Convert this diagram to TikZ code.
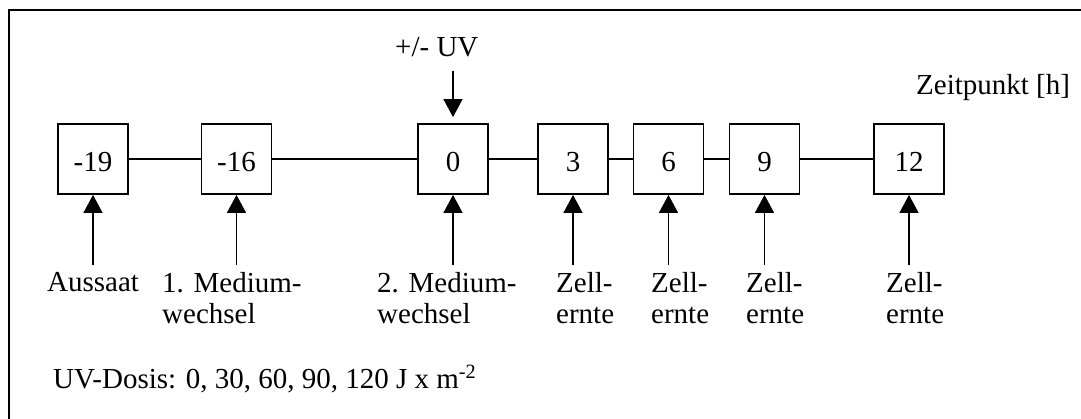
\documentclass[tikz,border=0pt]{standalone}
\usepackage{fontspec}
\setmainfont{Liberation Serif}
\usetikzlibrary{arrows.meta}

\begin{document}
\begin{tikzpicture}[x=1pt,y=-1pt,
  every node/.style={font=\fontsize{29}{32}\selectfont, inner sep=0pt},
  timebox/.style={draw, line width=1.8pt, minimum size=70pt,
    text height=28pt, text depth=2pt},
  link/.style={line width=1.2pt},
  mark arrow/.style={line width=1.3pt,
    -{Triangle[length=18pt,width=19pt]}},
  caption/.style={anchor=base west, align=left}
]
\useasboundingbox (0,0) rectangle (1081,419);
\clip (0,0) rectangle (1081,419);

% outer frame (runs past the right and bottom edges)
\draw[line width=2pt] (8.5,10.5) rectangle (1100,440);

% time points
\node[timebox] (tm19) at (93,159)   {-19};
\node[timebox] (tm16) at (236.5,159) {-16};
\node[timebox] (t0)   at (453,159)  {0};
\node[timebox] (t3)   at (573,159)  {3};
\node[timebox] (t6)   at (668.5,159) {6};
\node[timebox] (t9)   at (764.5,159) {9};
\node[timebox] (t12)  at (909,159)  {12};

\draw[link] (tm19) -- (tm16) -- (t0) -- (t3) -- (t6) -- (t9) -- (t12);

% headings
\node[caption] (uv)   at (395,57) {+/- UV};
\node[caption] (zeit) at (916,95) {Zeitpunkt [h]};

% UV irradiation arrow
\coordinate (uvtail) at (453,71);
\draw[mark arrow, shorten >=6pt] (uvtail) -- (t0.north);

% event arrows below the time points
\foreach \b in {tm19,tm16,t0,t3,t6,t9,t12}{
  \coordinate (\b-tail) at ([yshift=-70pt]\b.south);
  \draw[mark arrow] (\b-tail) -- (\b.south);
}

% event labels (anchored at the baseline of their last line)
\node[caption] (aussaat) at (47,292)  {Aussaat};
\node[caption] (med1)    at (162,324) {1. Medium-\\wechsel};
\node[caption] (med2)    at (377,324) {2. Medium-\\wechsel};
\node[caption] (ernte3)  at (556,324) {Zell-\\ernte};
\node[caption] (ernte6)  at (651,324) {Zell-\\ernte};
\node[caption] (ernte9)  at (746,324) {Zell-\\ernte};
\node[caption] (ernte12) at (886,324) {Zell-\\ernte};

% dose note
\node[caption] (dosis) at (53,388) {UV-Dosis: 0, 30, 60, 90, 120 J x m\textsuperscript{-2}};
\end{tikzpicture}
\end{document}
